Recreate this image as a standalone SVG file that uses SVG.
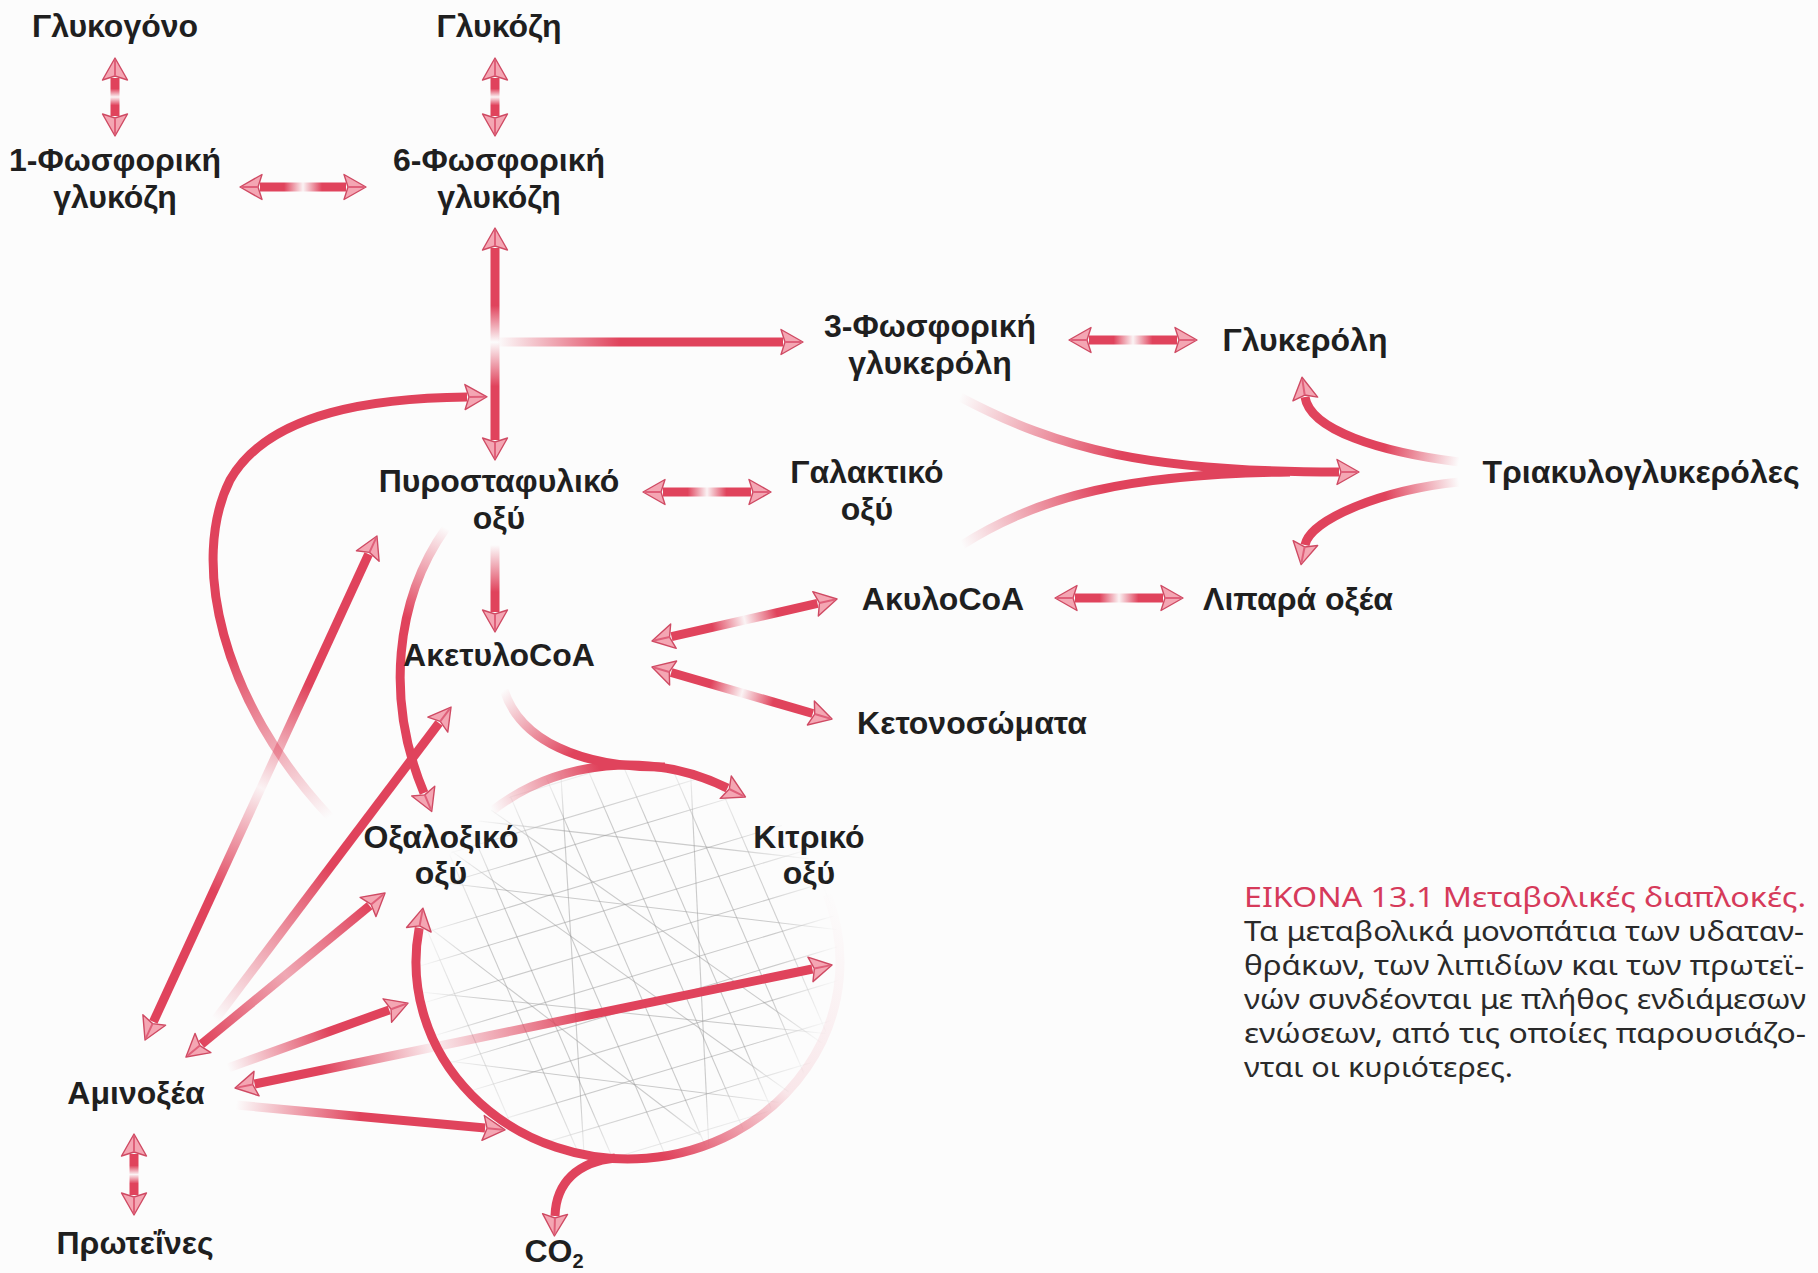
<svg xmlns="http://www.w3.org/2000/svg" width="1818" height="1273" viewBox="0 0 1818 1273">
<style>
.lbl{font-family:"Liberation Sans",Arial,sans-serif;font-weight:bold;font-size:32px;fill:#1f1f1f;text-anchor:middle}
.cap{font-family:"Noto Sans","Liberation Sans",sans-serif;font-size:27px;fill:#2a2a2a}
.cap1{fill:#d63a5a}
.sh{fill:none;stroke-width:9;stroke-linecap:butt}
.hatch line{stroke:#9a9a9a;stroke-width:1.1;opacity:.5}
</style>
<defs>
<marker id="ah" viewBox="-2 -14 26 28" markerUnits="userSpaceOnUse" markerWidth="26" markerHeight="28" refX="2" refY="0" orient="auto-start-reverse">
<path d="M0,-12.5 L22,0 L0,12.5 L4,0 Z" fill="#f4a6b3" stroke="#cf4a63" stroke-width="1.4" stroke-linejoin="round"/>
<path d="M4,0 L20,0" stroke="#e0607a" stroke-width="2"/>
</marker>
<linearGradient id="mid" gradientUnits="userSpaceOnUse">
<stop offset="0" stop-color="#e0435c"/><stop offset=".28" stop-color="#e0435c"/><stop offset=".5" stop-color="#e0435c" stop-opacity=".05"/><stop offset=".72" stop-color="#e0435c"/><stop offset="1" stop-color="#e0435c"/>
</linearGradient>
<linearGradient id="fin" gradientUnits="userSpaceOnUse">
<stop offset="0" stop-color="#e0435c" stop-opacity="0"/><stop offset="1" stop-color="#e0435c"/>
</linearGradient>
<linearGradient id="gA" href="#mid" x1="115" y1="78" x2="115" y2="116"/>
<linearGradient id="gB" href="#mid" x1="495" y1="78" x2="495" y2="116"/>
<linearGradient id="gC" href="#mid" x1="260" y1="187" x2="346" y2="187"/>
<linearGradient id="gD" gradientUnits="userSpaceOnUse" x1="495" y1="248" x2="495" y2="440">
<stop offset="0" stop-color="#e0435c"/><stop offset=".3" stop-color="#e0435c"/><stop offset=".49" stop-color="#e0435c" stop-opacity="0"/><stop offset=".72" stop-color="#e0435c"/><stop offset="1" stop-color="#e0435c"/>
</linearGradient>
<linearGradient id="gE" href="#fin" x1="497" y1="342" x2="620" y2="342"/>
<linearGradient id="gF" href="#mid" x1="1089" y1="340" x2="1177" y2="340"/>
<linearGradient id="gG1" href="#fin" x1="960" y1="397" x2="1120" y2="460"/>
<linearGradient id="gG2" href="#fin" x1="962" y1="545" x2="1100" y2="480"/>
<linearGradient id="gH" href="#fin" x1="1459" y1="462" x2="1385" y2="448"/>
<linearGradient id="gI" href="#fin" x1="1459" y1="482" x2="1385" y2="494"/>
<linearGradient id="gJ" href="#mid" x1="663" y1="492" x2="751" y2="492"/>
<linearGradient id="gK" href="#mid" x1="1075" y1="598" x2="1163" y2="598"/>
<linearGradient id="gL" href="#fin" x1="495" y1="545" x2="495" y2="592"/>
<linearGradient id="gM" href="#mid" x1="671.5" y1="636.6" x2="817.5" y2="603.4"/>
<linearGradient id="gN" href="#mid" x1="671.2" y1="672.5" x2="812.8" y2="713.5"/>
<linearGradient id="gO" href="#fin" x1="330" y1="817" x2="228" y2="650"/>
<linearGradient id="gP" href="#fin" x1="446" y1="528" x2="402" y2="615"/>
<linearGradient id="gT" href="#fin" x1="492" y1="811" x2="600" y2="770"/>
<linearGradient id="gAc" href="#fin" x1="504" y1="690" x2="565" y2="760"/>
<linearGradient id="gCyc" gradientUnits="userSpaceOnUse" x1="835" y1="890" x2="590" y2="1165">
<stop offset="0" stop-color="#e0435c" stop-opacity="0"/><stop offset=".5" stop-color="#e0435c" stop-opacity=".12"/><stop offset=".85" stop-color="#e0435c"/><stop offset="1" stop-color="#e0435c"/>
</linearGradient>
<linearGradient id="gR1" href="#mid" x1="368.6" y1="554.2" x2="153.4" y2="1021.8"/>
<linearGradient id="gR2" href="#fin" x1="215" y1="1020" x2="330" y2="868"/>
<linearGradient id="gR3" gradientUnits="userSpaceOnUse" x1="369.6" y1="905.7" x2="201.4" y2="1044.3">
<stop offset="0" stop-color="#e0435c"/><stop offset=".5" stop-color="#e0435c" stop-opacity=".45"/><stop offset="1" stop-color="#e0435c"/>
</linearGradient>
<linearGradient id="gR4" href="#fin" x1="228" y1="1068" x2="330" y2="1031"/>
<linearGradient id="gR5" gradientUnits="userSpaceOnUse" x1="254.6" y1="1084" x2="812.4" y2="969">
<stop offset="0" stop-color="#e0435c"/><stop offset=".12" stop-color="#e0435c"/><stop offset=".32" stop-color="#e0435c" stop-opacity=".08"/><stop offset=".6" stop-color="#e0435c"/><stop offset="1" stop-color="#e0435c"/>
</linearGradient>
<linearGradient id="gR6" href="#fin" x1="236" y1="1105" x2="360" y2="1117"/>
<linearGradient id="gPr" href="#mid" x1="134" y1="1154" x2="134" y2="1195"/>
<radialGradient id="hg" gradientUnits="userSpaceOnUse" cx="628" cy="962" r="212">
<stop offset="0" stop-color="#fff"/><stop offset=".7" stop-color="#fff"/><stop offset="1" stop-color="#000"/>
</radialGradient>
<mask id="hm"><ellipse cx="628" cy="962" rx="212" ry="199" fill="url(#hg)"/></mask>
</defs>
<rect width="1818" height="1273" fill="#fcfcfc"/>

<g id="cycle-texture" class="hatch" mask="url(#hm)">
<line x1="400" y1="830" x2="860" y2="692"/><line x1="400" y1="868" x2="860" y2="730"/><line x1="400" y1="897" x2="860" y2="759"/>
<line x1="400" y1="940" x2="860" y2="802"/><line x1="400" y1="972" x2="860" y2="834"/><line x1="400" y1="1010" x2="860" y2="872"/>
<line x1="400" y1="1046" x2="860" y2="908"/><line x1="400" y1="1078" x2="860" y2="940"/><line x1="400" y1="1112" x2="860" y2="974"/>
<line x1="400" y1="1150" x2="860" y2="1012"/><line x1="400" y1="1186" x2="860" y2="1048"/><line x1="400" y1="1222" x2="860" y2="1084"/>
<line x1="400" y1="1262" x2="860" y2="1124"/>
<line x1="300" y1="740" x2="490" y2="1180"/><line x1="345" y1="740" x2="535" y2="1180"/><line x1="400" y1="740" x2="590" y2="1180"/>
<line x1="432" y1="740" x2="622" y2="1180"/><line x1="486" y1="740" x2="676" y2="1180"/><line x1="530" y1="740" x2="720" y2="1180"/>
<line x1="575" y1="740" x2="765" y2="1180"/><line x1="612" y1="740" x2="802" y2="1180"/><line x1="660" y1="740" x2="850" y2="1180"/>
<line x1="700" y1="740" x2="890" y2="1180"/><line x1="760" y1="740" x2="950" y2="1180"/>
<line x1="380" y1="800" x2="800" y2="1100"/><line x1="420" y1="760" x2="860" y2="1070"/><line x1="400" y1="905" x2="700" y2="1135"/>
<line x1="420" y1="880" x2="840" y2="930"/><line x1="420" y1="992" x2="840" y2="1035"/><line x1="560" y1="760" x2="585" y2="1170"/>
<line x1="690" y1="760" x2="710" y2="1170"/><line x1="440" y1="1060" x2="840" y2="1110"/><line x1="470" y1="820" x2="820" y2="860"/>
</g>

<g id="connectors" marker-end="url(#ah)">
<path class="sh" d="M115,78 V116" stroke="url(#gA)" marker-start="url(#ah)"/>
<path class="sh" d="M495,78 V116" stroke="url(#gB)" marker-start="url(#ah)"/>
<path class="sh" d="M260,187 H346" stroke="url(#gC)" marker-start="url(#ah)"/>
<path class="sh" d="M495,248 V440" stroke="url(#gD)" marker-start="url(#ah)"/>
<path class="sh" d="M497,342 H783" stroke="url(#gE)"/>
<path class="sh" d="M1089,340 H1177" stroke="url(#gF)" marker-start="url(#ah)"/>
<path class="sh" d="M962,545 C1040,495 1130,474 1290,472" stroke="url(#gG2)" marker-end="none"/>
<path class="sh" d="M960,397 C1060,450 1150,472 1339,472" stroke="url(#gG1)"/>
<path class="sh" d="M1459,462 C1380,452 1310,430 1305,397" stroke="url(#gH)"/>
<path class="sh" d="M1459,482 C1380,490 1310,520 1305,545" stroke="url(#gI)"/>
<path class="sh" d="M663,492 H751" stroke="url(#gJ)" marker-start="url(#ah)"/>
<path class="sh" d="M1075,598 H1163" stroke="url(#gK)" marker-start="url(#ah)"/>
<path class="sh" d="M495,545 V612" stroke="url(#gL)"/>
<path class="sh" d="M671.5,636.6 L817.5,603.4" stroke="url(#gM)" marker-start="url(#ah)"/>
<path class="sh" d="M671.2,672.5 L812.8,713.5" stroke="url(#gN)" marker-start="url(#ah)"/>
<path class="sh" d="M330,817 C220,700 190,560 230,480 C270,410 380,398 467,397" stroke="url(#gO)"/>
<path class="sh" d="M446,528 C395,600 385,700 424,793" stroke="url(#gP)"/>
<path class="sh" d="M827.2,894.6 A212,197 0 1 1 419.2,927.8" stroke="url(#gCyc)"/>
<path class="sh" d="M615,1158 C578,1162 556,1182 555,1216" stroke="#e0435c"/>
<path class="sh" d="M491.7,811.1 A212,197 0 0 1 727.5,788.1" stroke="url(#gT)"/>
<path class="sh" d="M504,690 C520,740 580,768 665,767" stroke="url(#gAc)" marker-end="none"/>
<path class="sh" d="M368.6,554.2 L153.4,1021.8" stroke="url(#gR1)" marker-start="url(#ah)"/>
<path class="sh" d="M215,1020 L439,723" stroke="url(#gR2)"/>
<path class="sh" d="M369.6,905.7 L201.4,1044.3" stroke="url(#gR3)" marker-start="url(#ah)"/>
<path class="sh" d="M228,1068 L389.2,1009.9" stroke="url(#gR4)"/>
<path class="sh" d="M254.6,1084 L812.4,969" stroke="url(#gR5)" marker-start="url(#ah)"/>
<path class="sh" d="M236,1105 L485.1,1128.1" stroke="url(#gR6)"/>
<path class="sh" d="M134,1154 V1195" stroke="url(#gPr)" marker-start="url(#ah)"/>
</g>

<g id="n-glykogono"><text class="lbl" x="115" y="37">Γλυκογόνο</text></g>
<g id="n-glykozi"><text class="lbl" x="499" y="37">Γλυκόζη</text></g>
<g id="n-1p-glykozi"><text class="lbl" x="115" y="171">1-Φωσφορική</text><text class="lbl" x="115" y="208">γλυκόζη</text></g>
<g id="n-6p-glykozi"><text class="lbl" x="499" y="171">6-Φωσφορική</text><text class="lbl" x="499" y="208">γλυκόζη</text></g>
<g id="n-3p-glykeroli"><text class="lbl" x="930" y="337">3-Φωσφορική</text><text class="lbl" x="930" y="374">γλυκερόλη</text></g>
<g id="n-glykeroli"><text class="lbl" x="1305" y="351">Γλυκερόλη</text></g>
<g id="n-triakyl"><text class="lbl" x="1641" y="483">Τριακυλογλυκερόλες</text></g>
<g id="n-pyrostafyliko"><text class="lbl" x="499" y="492">Πυροσταφυλικό</text><text class="lbl" x="499" y="529">οξύ</text></g>
<g id="n-galaktiko"><text class="lbl" x="867" y="483">Γαλακτικό</text><text class="lbl" x="867" y="520">οξύ</text></g>
<g id="n-akylocoa"><text class="lbl" x="943" y="610">ΑκυλοCoA</text></g>
<g id="n-lipara"><text class="lbl" x="1298" y="610">Λιπαρά οξέα</text></g>
<g id="n-aketylocoa"><text class="lbl" x="499" y="666">ΑκετυλοCoA</text></g>
<g id="n-ketono"><text class="lbl" x="972" y="734">Κετονοσώματα</text></g>
<g id="n-oxaloxiko"><text class="lbl" x="441" y="848">Οξαλοξικό</text><text class="lbl" x="441" y="884">οξύ</text></g>
<g id="n-kitriko"><text class="lbl" x="809" y="848">Κιτρικό</text><text class="lbl" x="809" y="884">οξύ</text></g>
<g id="n-aminoxea"><text class="lbl" x="136" y="1104">Αμινοξέα</text></g>
<g id="n-proteines"><text class="lbl" x="135" y="1254">Πρωτεΐνες</text></g>
<g id="n-co2"><text class="lbl" x="554" y="1262">CO<tspan dy="6" font-size="20">2</tspan></text></g>

<g id="caption">
<text class="cap cap1" x="1244" y="907" textLength="562" lengthAdjust="spacingAndGlyphs">ΕΙΚΟΝΑ 13.1 Μεταβολικές διαπλοκές.</text>
<text class="cap" x="1244" y="941" textLength="560" lengthAdjust="spacingAndGlyphs">Τα μεταβολικά μονοπάτια των υδαταν-</text>
<text class="cap" x="1244" y="975" textLength="560" lengthAdjust="spacingAndGlyphs">θράκων, των λιπιδίων και των πρωτεϊ-</text>
<text class="cap" x="1244" y="1009" textLength="562" lengthAdjust="spacingAndGlyphs">νών συνδέονται με πλήθος ενδιάμεσων</text>
<text class="cap" x="1244" y="1043" textLength="562" lengthAdjust="spacingAndGlyphs">ενώσεων, από τις οποίες παρουσιάζο-</text>
<text class="cap" x="1244" y="1077" textLength="269" lengthAdjust="spacingAndGlyphs">νται οι κυριότερες.</text>
</g>
</svg>
